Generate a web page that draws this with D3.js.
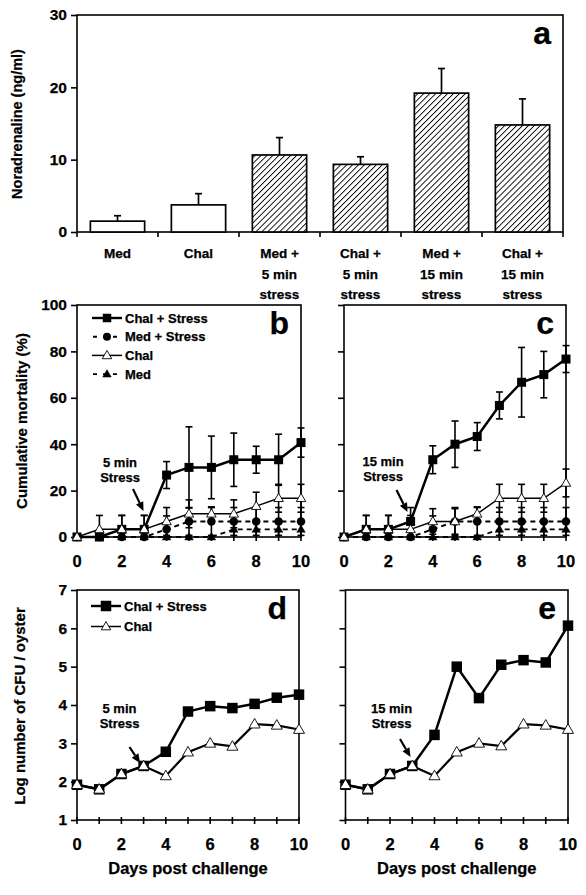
<!DOCTYPE html>
<html><head><meta charset="utf-8">
<script src="https://cdn.jsdelivr.net/npm/d3@7"></script>
<style>
body{margin:0;background:#fff}
svg{display:block}
text{font-family:"Liberation Sans",Arial,sans-serif;font-weight:bold;fill:#000;stroke:#000;stroke-width:0.25px}
</style>
</head><body>
<svg id="chart" width="586" height="895"></svg>
<script>
// ---------- DATA ----------
// Panel a
const catsA = [["Med"], ["Chal"], ["Med +", "5 min", "stress"], ["Chal +", "5 min", "stress"], ["Med +", "15 min", "stress"], ["Chal +", "15 min", "stress"]];
const noraMean = [1.5, 3.75, 10.65, 9.35, 19.2, 14.8];
const noraErr = [0.75, 1.55, 2.4, 1.05, 3.4, 3.6];
const noraHatched = [false, false, true, true, true, true];
const ticksA = [0, 10, 20, 30];

// Days
const days = [0, 1, 2, 3, 4, 5, 6, 7, 8, 9, 10];
const dayLabels = [0, 2, 4, 6, 8, 10];
const ticksMort = [0, 20, 40, 60, 80, 100];
const ticksCFU = [1, 2, 3, 4, 5, 6, 7];

// Panel b (5 min stress) cumulative mortality (%)
const bChalStress = [0, 0, 3.3, 3.3, 26.7, 30, 30, 33.3, 33.3, 33.3, 40.7];
const bChalStressErr = [0, 0, 6, 6, 5.8, 17.5, 13.5, 11.5, 5.8, 11, 6.3];
const bMedStress = [0, 0, 0, 0, 3.3, 6.7, 6.7, 6.7, 6.7, 6.7, 6.7];
const bMedStressErr = [0, 0, 0, 0, 5.8, 6, 6, 6, 6, 6, 6];
const bChal = [0, 3.3, 3.3, 3.3, 6.7, 10, 10, 10, 13.3, 16.7, 16.7];
const bChalErr = [0, 6, 6, 6, 6, 6, 3, 6, 6, 6, 6];
const bMed = [0, 0, 0, 0, 0, 0, 0, 3.3, 3.3, 3.3, 3.3];
const bMedErr = [0, 0, 0, 0, 0, 0, 0, 3.3, 3.3, 3.3, 3.3];

// Panel c (15 min stress)
const cChalStress = [0, 3.3, 3.3, 6.7, 33.3, 40, 43.3, 56.7, 66.7, 70, 76.7];
const cChalStressErr = [0, 6, 6, 6, 6, 10, 6, 5.8, 15, 10, 5.8];
const cMedStress = [0, 0, 0, 0, 3.3, 6.7, 6.7, 6.7, 6.7, 6.7, 6.7];
const cMedStressErr = [0, 0, 0, 0, 5.8, 6, 6, 6, 6, 6, 6];
const cChal = [0, 3.3, 3.3, 3.3, 6.7, 6.7, 10, 16.7, 16.7, 16.7, 23.3];
const cChalErr = [0, 6, 6, 6, 5.5, 5.5, 3, 6, 6, 6, 6];
const cMed = [0, 0, 0, 0, 0, 0, 0, 3.3, 3.3, 3.3, 3.3];
const cMedErr = [0, 0, 0, 0, 0, 0, 0, 3.3, 3.3, 3.3, 3.3];

// Panel d (5 min) log CFU / oyster
const dChalStress = [1.92, 1.8, 2.2, 2.41, 2.78, 3.83, 3.97, 3.92, 4.03, 4.19, 4.27];
const dChal = [1.92, 1.8, 2.2, 2.41, 2.15, 2.77, 3.0, 2.92, 3.5, 3.47, 3.36];
// Panel e (15 min)
const eChalStress = [1.92, 1.8, 2.2, 2.41, 3.22, 5.0, 4.18, 5.05, 5.17, 5.11, 6.07];
const eChal = [1.92, 1.8, 2.2, 2.41, 2.15, 2.77, 3.0, 2.93, 3.5, 3.47, 3.36];

// ---------- DRAWING ----------
const svg = d3.select("#chart");
const defs = svg.append("defs");
const pat = defs.append("pattern").attr("id", "hatch").attr("patternUnits", "userSpaceOnUse")
  .attr("width", 4.2).attr("height", 4.2).attr("patternTransform", "rotate(45)");
pat.append("rect").attr("width", 4.2).attr("height", 4.2).attr("fill", "#fff");
pat.append("line").attr("x1", 0).attr("y1", 0).attr("x2", 0).attr("y2", 4.2)
  .attr("stroke", "#000").attr("stroke-width", 1.8);

const TICKFS = 15.5;

function frameRect(f) {
  svg.append("rect").attr("x", f.x0).attr("y", f.y0).attr("width", f.x1 - f.x0).attr("height", f.y1 - f.y0)
    .attr("fill", "none").attr("stroke", "#000").attr("stroke-width", 1.6);
}
function leftAxis(f, y, ticks, labels) {
  const ax = d3.axisLeft(y).tickValues(ticks).tickSize(6).tickPadding(4)
    .tickFormat(labels ? d3.format("d") : () => "");
  const g = svg.append("g").attr("transform", `translate(${f.x0},0)`).call(ax);
  g.select(".domain").remove();
  g.selectAll(".tick line").attr("stroke", "#000").attr("stroke-width", 1.6);
  g.selectAll("text").attr("font-size", TICKFS).attr("font-family", "Liberation Sans, Arial").attr("font-weight", "bold");
}
function panelLetter(f, s) {
  svg.append("text").attr("x", f.x1 - 12).attr("y", f.y0 + 29).attr("text-anchor", "end")
    .attr("font-size", 32).text(s);
}

// ---- Panel a ----
const fA = {x0: 77, x1: 563, y0: 15, y1: 232};
const xA = d3.scaleBand().domain(d3.range(catsA.length)).range([fA.x0, fA.x1]).paddingInner(0.33).paddingOuter(0.165);
const yA = d3.scaleLinear().domain([0, 30]).range([fA.y1, fA.y0]);
frameRect(fA);
leftAxis(fA, yA, ticksA, true);
const stepA = xA.step();
d3.range(catsA.length + 1).forEach(i => {
  const xx = fA.x0 + i * stepA;
  svg.append("line").attr("x1", xx).attr("x2", xx).attr("y1", fA.y1).attr("y2", fA.y1 + 5)
    .attr("stroke", "#000").attr("stroke-width", 1.6);
});
noraMean.forEach((m, i) => {
  const cx = xA(i) + xA.bandwidth() / 2;
  svg.append("line").attr("x1", cx).attr("x2", cx).attr("y1", yA(m)).attr("y2", yA(m + noraErr[i]))
    .attr("stroke", "#000").attr("stroke-width", 1.7);
  svg.append("line").attr("x1", cx - 3.5).attr("x2", cx + 3.5).attr("y1", yA(m + noraErr[i])).attr("y2", yA(m + noraErr[i]))
    .attr("stroke", "#000").attr("stroke-width", 1.7);
});
svg.append("g").selectAll("rect").data(noraMean).join("rect")
  .attr("x", (d, i) => xA(i)).attr("width", xA.bandwidth())
  .attr("y", d => yA(d)).attr("height", d => yA(0) - yA(d))
  .attr("fill", (d, i) => noraHatched[i] ? "url(#hatch)" : "#fff")
  .attr("stroke", "#000").attr("stroke-width", 1.7);
catsA.forEach((lines, i) => {
  const cx = xA(i) + xA.bandwidth() / 2;
  const t = svg.append("text").attr("x", cx).attr("y", 258).attr("text-anchor", "middle").attr("font-size", 13.5);
  lines.forEach((l, j) => t.append("tspan").attr("x", cx).attr("dy", j === 0 ? 0 : 20.5).text(l));
});
svg.append("text").attr("transform", "translate(22,124) rotate(-90)").attr("text-anchor", "middle")
  .attr("font-size", 14.5).text("Noradrenaline (ng/ml)");
panelLetter(fA, "a");

// ---- markers ----
function drawMarker(g, type, x, y, s) {
  if (type === "square") {
    g.append("rect").attr("x", x - s / 2).attr("y", y - s / 2).attr("width", s).attr("height", s).attr("fill", "#000");
  } else if (type === "circle") {
    g.append("circle").attr("cx", x).attr("cy", y).attr("r", s / 2).attr("fill", "#000");
  } else {
    const h = s * 0.87;
    const p = `M${x},${y - h * 0.6}L${x + s / 2},${y + h * 0.4}L${x - s / 2},${y + h * 0.4}Z`;
    g.append("path").attr("d", p).attr("fill", type === "tri-open" ? "#fff" : "#000")
      .attr("stroke", "#000").attr("stroke-width", type === "tri-open" ? 0.9 : 0.5);
  }
}

function linePanel(f, yDom, yTicks, showY, series, letter) {
  const x = d3.scaleLinear().domain([0, 10]).range([f.x0, f.x1]);
  const y = d3.scaleLinear().domain(yDom).range([f.y1, f.y0]);
  frameRect(f);
  leftAxis(f, y, yTicks, showY);
  days.forEach(d => {
    svg.append("line").attr("x1", x(d)).attr("x2", x(d)).attr("y1", f.y1 - 3).attr("y2", f.y1 + 4)
      .attr("stroke", "#000").attr("stroke-width", 1.6);
  });
  dayLabels.forEach(d => {
    svg.append("text").attr("x", x(d)).attr("y", f.y1 + 30).attr("text-anchor", "middle")
      .attr("font-size", 16.5).text(d);
  });
  series.forEach(s => {
    if (!s.err) return;
    s.vals.forEach((v, i) => {
      const e = s.err[i];
      if (!e) return;
      const lo = Math.max(yDom[0], v - e), hi = v + e;
      const g = svg.append("g").attr("stroke", "#000").attr("stroke-width", 1.6);
      g.append("line").attr("x1", x(days[i])).attr("x2", x(days[i])).attr("y1", y(lo)).attr("y2", y(hi));
      g.append("line").attr("x1", x(days[i]) - 3.5).attr("x2", x(days[i]) + 3.5).attr("y1", y(hi)).attr("y2", y(hi));
      if (v - e > yDom[0]) g.append("line").attr("x1", x(days[i]) - 3.5).attr("x2", x(days[i]) + 3.5).attr("y1", y(lo)).attr("y2", y(lo));
    });
  });
  series.forEach(s => {
    const line = d3.line().x((d, i) => x(days[i])).y(d => y(d));
    svg.append("path").attr("d", line(s.vals)).attr("fill", "none").attr("stroke", "#000")
      .attr("stroke-width", s.width).attr("stroke-dasharray", s.dash ? "5,4" : null);
    const g = svg.append("g");
    s.vals.forEach((v, i) => drawMarker(g, s.marker, x(days[i]), y(v), s.size));
  });
  panelLetter(f, letter);
  return {x, y};
}

function legend(x, yStart, dy, items) {
  items.forEach((it, i) => {
    const yy = yStart + i * dy;
    svg.append("line").attr("x1", x).attr("x2", x + 30).attr("y1", yy).attr("y2", yy).attr("stroke", "#000")
      .attr("stroke-width", it.width).attr("stroke-dasharray", it.dash ? "4,6" : null)
      .attr("stroke-dashoffset", it.dash ? -1 : 0);
    drawMarker(svg.append("g"), it.marker, x + 15, yy, it.size);
    svg.append("text").attr("x", x + 33).attr("y", yy + 4.5).attr("font-size", 13).text(it.label);
  });
}

function stressNote(cx, y1, lines, ax, ay, bx, by) {
  const t = svg.append("text").attr("x", cx).attr("y", y1).attr("text-anchor", "middle").attr("font-size", 13);
  lines.forEach((l, j) => t.append("tspan").attr("x", cx).attr("dy", j === 0 ? 0 : 15).text(l));
  const ang = Math.atan2(by - ay, bx - ax);
  const L = 9, W = 4;
  const sx = bx - L * Math.cos(ang), sy = by - L * Math.sin(ang);
  svg.append("line").attr("x1", ax).attr("y1", ay).attr("x2", sx).attr("y2", sy).attr("stroke", "#000").attr("stroke-width", 2.2);
  svg.append("path").attr("d", `M${bx},${by}L${sx + W * Math.sin(ang)},${sy - W * Math.cos(ang)}L${sx - W * Math.sin(ang)},${sy + W * Math.cos(ang)}Z`).attr("fill", "#000");
}

// ---- Panel b ----
const fB = {x0: 77, x1: 301, y0: 305, y1: 537};
const sMed = (v, e) => ({vals: v, err: e, marker: "tri-fill", dash: true, width: 1.8, size: 8.5});
const sMedS = (v, e) => ({vals: v, err: e, marker: "circle", dash: true, width: 2, size: 8.5});
const sChal = (v, e) => ({vals: v, err: e, marker: "tri-open", dash: false, width: 1.5, size: 9.5});
const sChalS = (v, e) => ({vals: v, err: e, marker: "square", dash: false, width: 2.5, size: 9});
linePanel(fB, [0, 100], ticksMort, true,
  [sMed(bMed, bMedErr), sMedS(bMedStress, bMedStressErr), sChalS(bChalStress, bChalStressErr), sChal(bChal, bChalErr)], "b");
svg.append("text").attr("transform", "translate(27,421) rotate(-90)").attr("text-anchor", "middle")
  .attr("font-size", 15).text("Cumulative mortality (%)");
legend(92, 318, 18.7, [
  {label: "Chal + Stress", marker: "square", dash: false, width: 2.4, size: 8.5},
  {label: "Med + Stress", marker: "circle", dash: true, width: 2, size: 8},
  {label: "Chal", marker: "tri-open", dash: false, width: 1.5, size: 9.5},
  {label: "Med", marker: "tri-fill", dash: true, width: 1.8, size: 8.5}
]);
stressNote(120, 467, ["5 min", "Stress"], 133, 489, 143.5, 511);

// ---- Panel c ----
const fC = {x0: 344, x1: 566, y0: 305, y1: 537};
linePanel(fC, [0, 100], ticksMort, false,
  [sMed(cMed, cMedErr), sMedS(cMedStress, cMedStressErr), sChalS(cChalStress, cChalStressErr), sChal(cChal, cChalErr)], "c");
stressNote(383, 466, ["15 min", "Stress"], 396.5, 490, 407.5, 512);

// ---- Panel d ----
const fD = {x0: 77, x1: 299, y0: 590, y1: 820};
const dS = v => ({vals: v, marker: "square", dash: false, width: 2.5, size: 10.5});
const dC = v => ({vals: v, marker: "tri-open", dash: false, width: 2.2, size: 11});
linePanel(fD, [1, 7], ticksCFU, true, [dS(dChalStress), dC(dChal)], "d");
legend(91, 606, 20.5, [
  {label: "Chal + Stress", marker: "square", dash: false, width: 2.4, size: 10.5},
  {label: "Chal", marker: "tri-open", dash: false, width: 1.5, size: 9.5}
]);
svg.append("text").attr("transform", "translate(25,706) rotate(-90)").attr("text-anchor", "middle")
  .attr("font-size", 15).text("Log number of CFU / oyster");
svg.append("text").attr("x", (fD.x0 + fD.x1) / 2).attr("y", 874).attr("text-anchor", "middle")
  .attr("font-size", 16.5).text("Days post challenge");
stressNote(119.5, 713, ["5 min", "Stress"], 129.5, 747, 140, 763);

// ---- Panel e ----
const fE = {x0: 345.5, x1: 568, y0: 590, y1: 820};
linePanel(fE, [1, 7], ticksCFU, false, [dS(eChalStress), dC(eChal)], "e");
svg.append("text").attr("x", (fE.x0 + fE.x1) / 2).attr("y", 874).attr("text-anchor", "middle")
  .attr("font-size", 16.5).text("Days post challenge");
stressNote(391.5, 713, ["15 min", "Stress"], 400, 739, 410.5, 757);
</script>
</body></html>
